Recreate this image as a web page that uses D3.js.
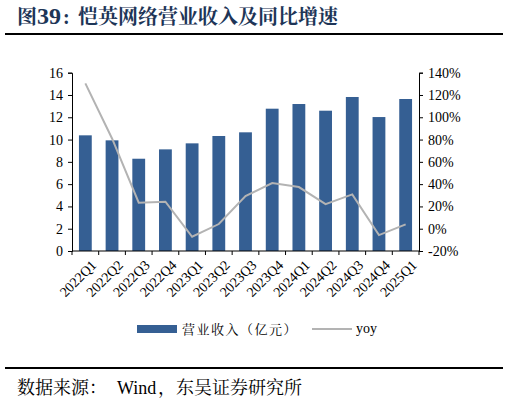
<!DOCTYPE html>
<html>
<head>
<meta charset="utf-8">
<script src="https://cdn.jsdelivr.net/npm/d3@7"></script>
<style>
  body { margin: 0; background: #fff; }
  svg { display: block; }
</style>
</head>
<body>
<div id="chart"></div>
<script>
// quarters and values
var quarters = ["2022Q1", "2022Q2", "2022Q3", "2022Q4", "2023Q1", "2023Q2", "2023Q3",
  "2023Q4", "2024Q1", "2024Q2", "2024Q3", "2024Q4", "2025Q1"];
var revenue = [10.38, 9.93, 8.28, 9.12, 9.66, 10.32, 10.65, 12.77, 13.19, 12.59, 13.82, 12.02, 13.64];
var yoy = [130.4, 81, 23.3, 24.2, -7.2, 4.2, 29.3, 41, 37.4, 22.1, 30.8, -5.7, 3.9];
var leftTicks = [0, 2, 4, 6, 8, 10, 12, 14, 16];
var rightTicks = [-20, 0, 20, 40, 60, 80, 100, 120, 140];

var W = 509, H = 402;
var margin = { top: 72.7, left: 72, right: 90, bottom: 151 };
var serif = "'Liberation Serif', 'Times New Roman', serif";
var cjkSerif = "'Noto Serif CJK SC', 'Noto Sans CJK SC', serif";

var svg = d3.select("#chart").append("svg")
  .attr("width", W)
  .attr("height", H);

// title + rules
var title = svg.append("text")
  .attr("y", 24)
  .attr("font-family", serif + ", " + cjkSerif)
  .attr("font-weight", "bold")
  .attr("font-size", 20)
  .attr("fill", "#1d3557");
title.append("tspan").attr("x", 17).attr("font-family", cjkSerif).text("图");
title.append("tspan").attr("x", 37).attr("font-size", 24).text("39");
title.append("tspan").attr("x", 63).text(":");
title.append("tspan").attr("x", 78).attr("font-family", cjkSerif).text("恺英网络营业收入及同比增速");

svg.append("line").attr("x1", 5).attr("x2", 503).attr("y1", 34).attr("y2", 34)
  .attr("stroke", "#000").attr("stroke-width", 2);
svg.append("line").attr("x1", 5).attr("x2", 503).attr("y1", 368).attr("y2", 368)
  .attr("stroke", "#000").attr("stroke-width", 2);

var src = svg.append("text")
  .attr("y", 394)
  .attr("font-family", cjkSerif)
  .attr("font-size", 18)
  .attr("fill", "#000");
src.append("tspan").attr("x", 17).text("数据来源：");
src.append("tspan").attr("x", 117).attr("font-family", serif).text("Wind");
src.append("tspan").attr("x", 158).text("，东吴证券研究所");

var x0 = margin.left, x1 = W - margin.right;
var yTop = margin.top, yBot = H - margin.bottom;

var x = d3.scaleBand().domain(quarters).range([x0, x1]).paddingInner(0.52).paddingOuter(0.26);
var yL = d3.scaleLinear().domain([0, 16]).range([yBot, yTop]);
var yR = d3.scaleLinear().domain([-20, 140]).range([yBot, yTop]);

// bars
svg.append("g").selectAll("rect")
  .data(revenue)
  .enter()
  .append("rect")
  .attr("x", function(d, i) { return x(quarters[i]); })
  .attr("y", function(d) { return yL(d); })
  .attr("width", x.bandwidth())
  .attr("height", function(d) { return yBot - yL(d); })
  .attr("fill", "#355f93");

// yoy line
var line = d3.line()
  .x(function(d, i) { return x(quarters[i]) + x.bandwidth() / 2; })
  .y(function(d) { return yR(d); });
svg.append("path")
  .datum(yoy)
  .attr("d", line)
  .attr("fill", "none")
  .attr("stroke", "#b3b3b3")
  .attr("stroke-width", 2);

// left axis
var gL = svg.append("g")
  .attr("transform", "translate(" + x0 + ",0)")
  .call(d3.axisLeft(yL).tickValues(leftTicks).tickSize(4).tickPadding(5));
// right axis
var gR = svg.append("g")
  .attr("transform", "translate(" + x1 + ",0)")
  .call(d3.axisRight(yR).tickValues(rightTicks).tickSize(4).tickPadding(5)
    .tickFormat(function(d) { return d + "%"; }));
[gL, gR].forEach(function(g) {
  g.select(".domain").attr("stroke", "#000");
  g.selectAll(".tick line").attr("stroke", "#000");
  g.selectAll("text").attr("font-family", serif).attr("font-size", 14).attr("fill", "#000");
});

// x axis: ticks at category boundaries
var step = (x1 - x0) / quarters.length;
var gX = svg.append("g").attr("transform", "translate(0," + yBot + ")");
gX.append("line").attr("x1", x0).attr("x2", x1).attr("stroke", "#000");
gX.selectAll(".tk")
  .data(d3.range(quarters.length + 1))
  .enter()
  .append("line")
  .attr("x1", function(i) { return x0 + i * step; })
  .attr("x2", function(i) { return x0 + i * step; })
  .attr("y1", 0).attr("y2", 4)
  .attr("stroke", "#000");
gX.selectAll(".lbl")
  .data(quarters)
  .enter()
  .append("text")
  .attr("transform", function(d) {
    return "translate(" + (x(d) + x.bandwidth() / 2 + 5) + ",8) rotate(-45)";
  })
  .attr("text-anchor", "end")
  .attr("dy", "0.7em")
  .attr("font-family", serif)
  .attr("font-size", 14)
  .attr("fill", "#000")
  .text(function(d) { return d; });

// legend
var lg = svg.append("g").attr("transform", "translate(0,329)");
lg.append("rect").attr("x", 137).attr("y", -4).attr("width", 40).attr("height", 8).attr("fill", "#355f93");
lg.append("text").attr("x", 182).attr("y", 5)
  .attr("font-family", cjkSerif).attr("font-size", 13).attr("letter-spacing", 1.5).attr("fill", "#000")
  .text("营业收入（亿元）");
lg.append("line").attr("x1", 312).attr("x2", 352).attr("y1", 0).attr("y2", 0)
  .attr("stroke", "#b3b3b3").attr("stroke-width", 2);
lg.append("text").attr("x", 356).attr("y", 4)
  .attr("font-family", serif).attr("font-size", 14).attr("fill", "#000")
  .text("yoy");
</script>
</body>
</html>
